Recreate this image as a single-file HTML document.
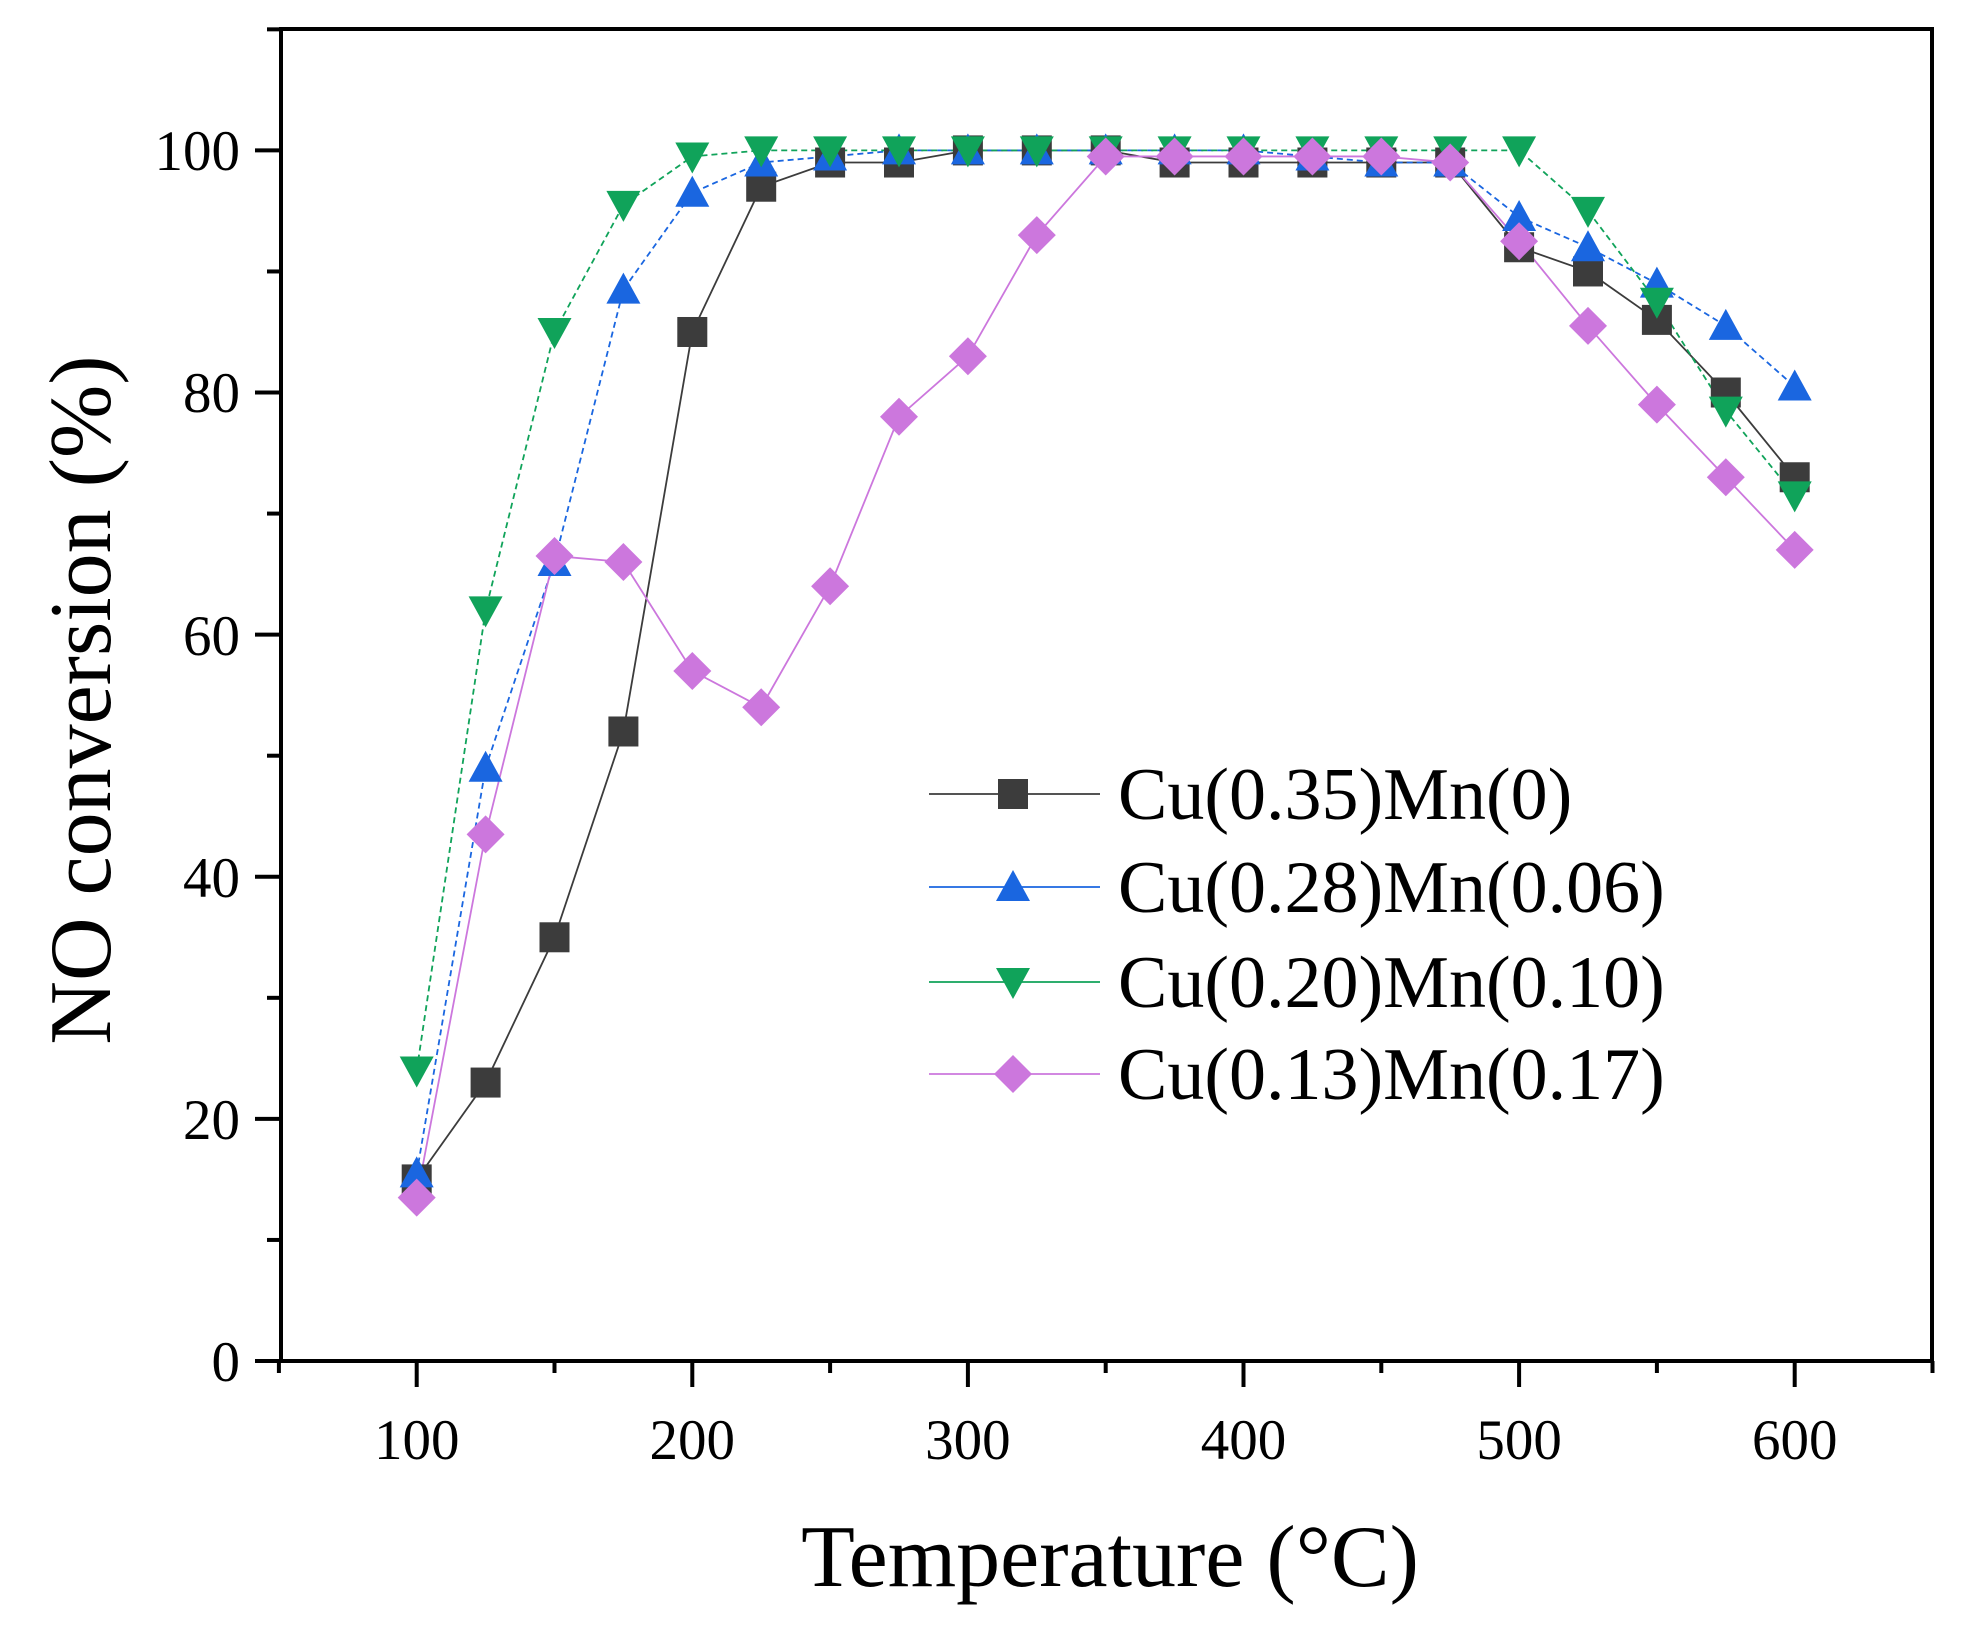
<!DOCTYPE html>
<html><head><meta charset="utf-8"><style>
html,body{margin:0;padding:0;background:#fff;}
svg{display:block;}
text{font-family:"Liberation Serif",serif;fill:#000;}
</style></head><body>
<svg id="s" width="1980" height="1636" xmlns="http://www.w3.org/2000/svg">
<rect x="281" y="29" width="1651" height="1332" fill="none" stroke="#000" stroke-width="4"/>
<g id="ticks" stroke="#000" stroke-width="4"></g>
<g id="data"></g>
<g font-size="57">
<text x="416.7" y="1459" text-anchor="middle">100</text>
<text x="692.3" y="1459" text-anchor="middle">200</text>
<text x="967.9" y="1459" text-anchor="middle">300</text>
<text x="1243.5" y="1459" text-anchor="middle">400</text>
<text x="1519.1" y="1459" text-anchor="middle">500</text>
<text x="1794.7" y="1459" text-anchor="middle">600</text>
<text x="240" y="1381" text-anchor="end">0</text>
<text x="240" y="1139" text-anchor="end">20</text>
<text x="240" y="897" text-anchor="end">40</text>
<text x="240" y="655" text-anchor="end">60</text>
<text x="240" y="412" text-anchor="end">80</text>
<text x="240" y="170" text-anchor="end">100</text>
</g>
<text x="1110" y="1586" font-size="88" text-anchor="middle">Temperature (°C)</text>
<text transform="translate(110,700) rotate(-90)" font-size="88" text-anchor="middle">NO conversion (%)</text>
<g id="leg" font-size="74"></g>
</svg>
<script>
const X=v=>416.7+(v-100)*2.756, Y=v=>1361-v*12.106;
const T=[];for(let t=100;t<=600;t+=25)T.push(t);
const S=[
{c:"#3c3c3c",d:"",m:"sq",v:[15,23,35,52,85,97,99,99,100,100,100,99,99,99,99,99,92,90,86,80,73],n:"Cu(0.35)Mn(0)"},
{c:"#1a66e0",d:"6,4",m:"up",v:[15.5,49,66,88.5,96.5,99,99.5,100,100,100,100,100,100,99.5,99,99,94.5,92,89,85.5,80.5],n:"Cu(0.28)Mn(0.06)"},
{c:"#10a35a",d:"6,4",m:"dn",v:[24,62,85,95.5,99.5,100,100,100,100,100,100,100,100,100,100,100,100,95,87.5,78.5,71.5],n:"Cu(0.20)Mn(0.10)"},
{c:"#cc77dd",d:"",m:"di",v:[13.5,43.5,66.5,66,57,54,64,78,83,93,99.5,99.5,99.5,99.5,99.5,99,92.5,85.5,79,73,67],n:"Cu(0.13)Mn(0.17)"}];
function mk(m,x,y,c){
 if(m=="sq")return `<rect x="${x-15}" y="${y-15}" width="30" height="30" fill="${c}"/>`;
 if(m=="up")return `<polygon points="${x},${y-17} ${x-17},${y+14} ${x+17},${y+14}" fill="${c}"/>`;
 if(m=="dn")return `<polygon points="${x},${y+17} ${x-17},${y-14} ${x+17},${y-14}" fill="${c}"/>`;
 return `<polygon points="${x},${y-19} ${x+19},${y} ${x},${y+19} ${x-19},${y}" fill="${c}"/>`;
}
let h="";
S.forEach(s=>{
 h+=`<polyline fill="none" stroke="${s.c}" stroke-width="1.8" ${s.d?'stroke-dasharray="'+s.d+'"':''} points="${s.v.map((v,i)=>X(T[i])+","+Y(v)).join(" ")}"/>`;
});
S.forEach(s=>{s.v.forEach((v,i)=>h+=mk(s.m,X(T[i]),Y(v),s.c));});
document.getElementById("data").innerHTML=h;
let t="";
for(let v=50;v<=650;v+=50){const x=X(v);t+=`<line x1="${x}" y1="1361" x2="${x}" y2="${v%100==0?1387:1373}"/>`;}
for(let v=0;v<=110;v+=10){const y=Y(v);t+=`<line x1="281" y1="${y}" x2="${v%20==0?255:267}" y2="${y}"/>`;}
document.getElementById("ticks").innerHTML=t;
let l="";const ly=[794,887,982,1074];
S.forEach((s,i)=>{l+=`<line x1="929" y1="${ly[i]}" x2="1100" y2="${ly[i]}" stroke="${s.c}" stroke-width="1.8"/>`+mk(s.m,1013,ly[i],s.c)+`<text x="1118" y="${ly[i]+25}">${s.n}</text>`;});
document.getElementById("leg").innerHTML=l;
</script>
</body></html>
